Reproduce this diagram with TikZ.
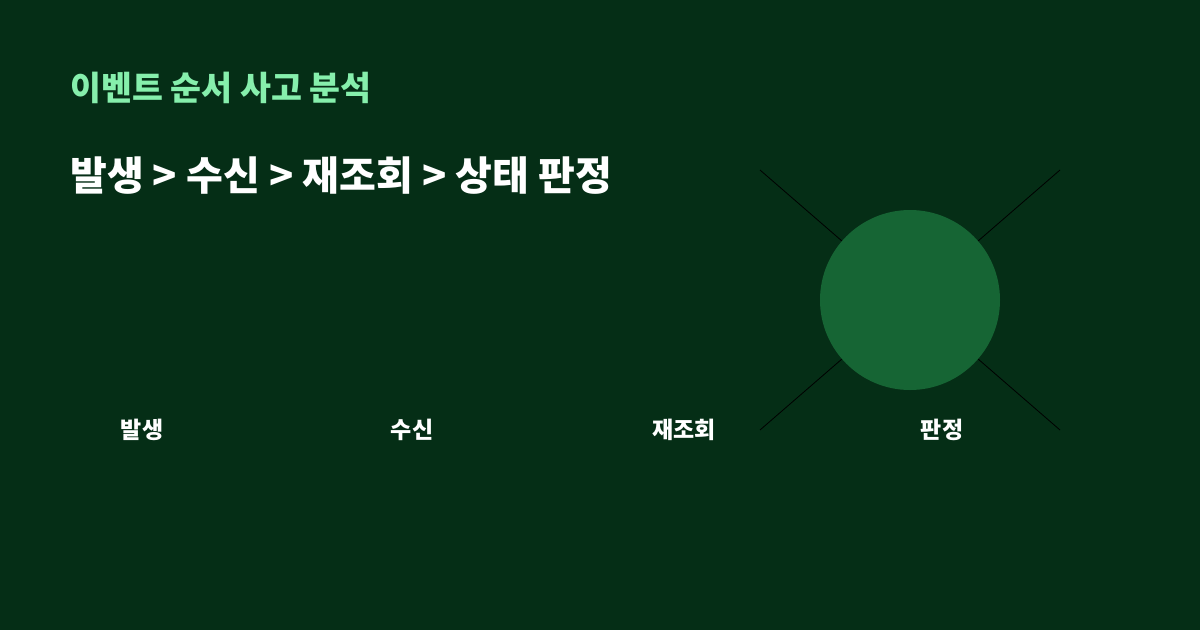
\documentclass[tikz,border=0pt]{standalone}
\usepackage{fontspec}
\newfontfamily\krfont{Noto Sans CJK KR}
\usetikzlibrary{positioning}
\definecolor{bgGreen}{HTML}{052E16}
\definecolor{discGreen}{HTML}{166534}
\definecolor{titleGreen}{HTML}{86EFAC}
\tikzset{
	kicker/.style={anchor=base west,inner sep=0pt,text=titleGreen,
    font=\krfont\bfseries\fontsize{33.6}{40}\selectfont},
	headline/.style={anchor=base west,inner sep=0pt,text=white,
    font=\krfont\bfseries\fontsize{40}{48}\selectfont},
	stage/.style={inner sep=0pt,text=white,
    font=\krfont\bfseries\fontsize{23}{28}\selectfont},
	disc/.style={circle,fill=discGreen,minimum size=180pt,inner sep=0pt},
	ray/.style={black,line width=0.8pt}
		}

\begin{document}
\begin{tikzpicture}[x=1pt,y=-1pt]

	\fill[bgGreen] (0,0) rectangle (1200,630);
	\useasboundingbox (0,0) rectangle (1200,630);

	\node[kicker] (kicker) at (70,100) {이벤트 순서 사고 분석};
	\node[headline] (headline) at (70,190) {발생 > 수신 > 재조회 > 상태 판정};

	% the X behind the disc
	\coordinate (nw) at (760,170);
	\coordinate (ne) at (1060,170);
	\coordinate (sw) at (760,430);
	\coordinate (se) at (1060,430);
	\draw[ray] (nw) -- (se);
	\draw[ray] (ne) -- (sw);

	\node[disc] (verdict) at (910,300) {};

	\node[stage] (occur) at (142,430) {발생};
	\node[stage] (receive) at (412,430) {수신};
	\node[stage] (requery) at (684,430) {재조회};
	\node[stage] (judge) at (942,430) {판정};
\end{tikzpicture}
\end{document}
